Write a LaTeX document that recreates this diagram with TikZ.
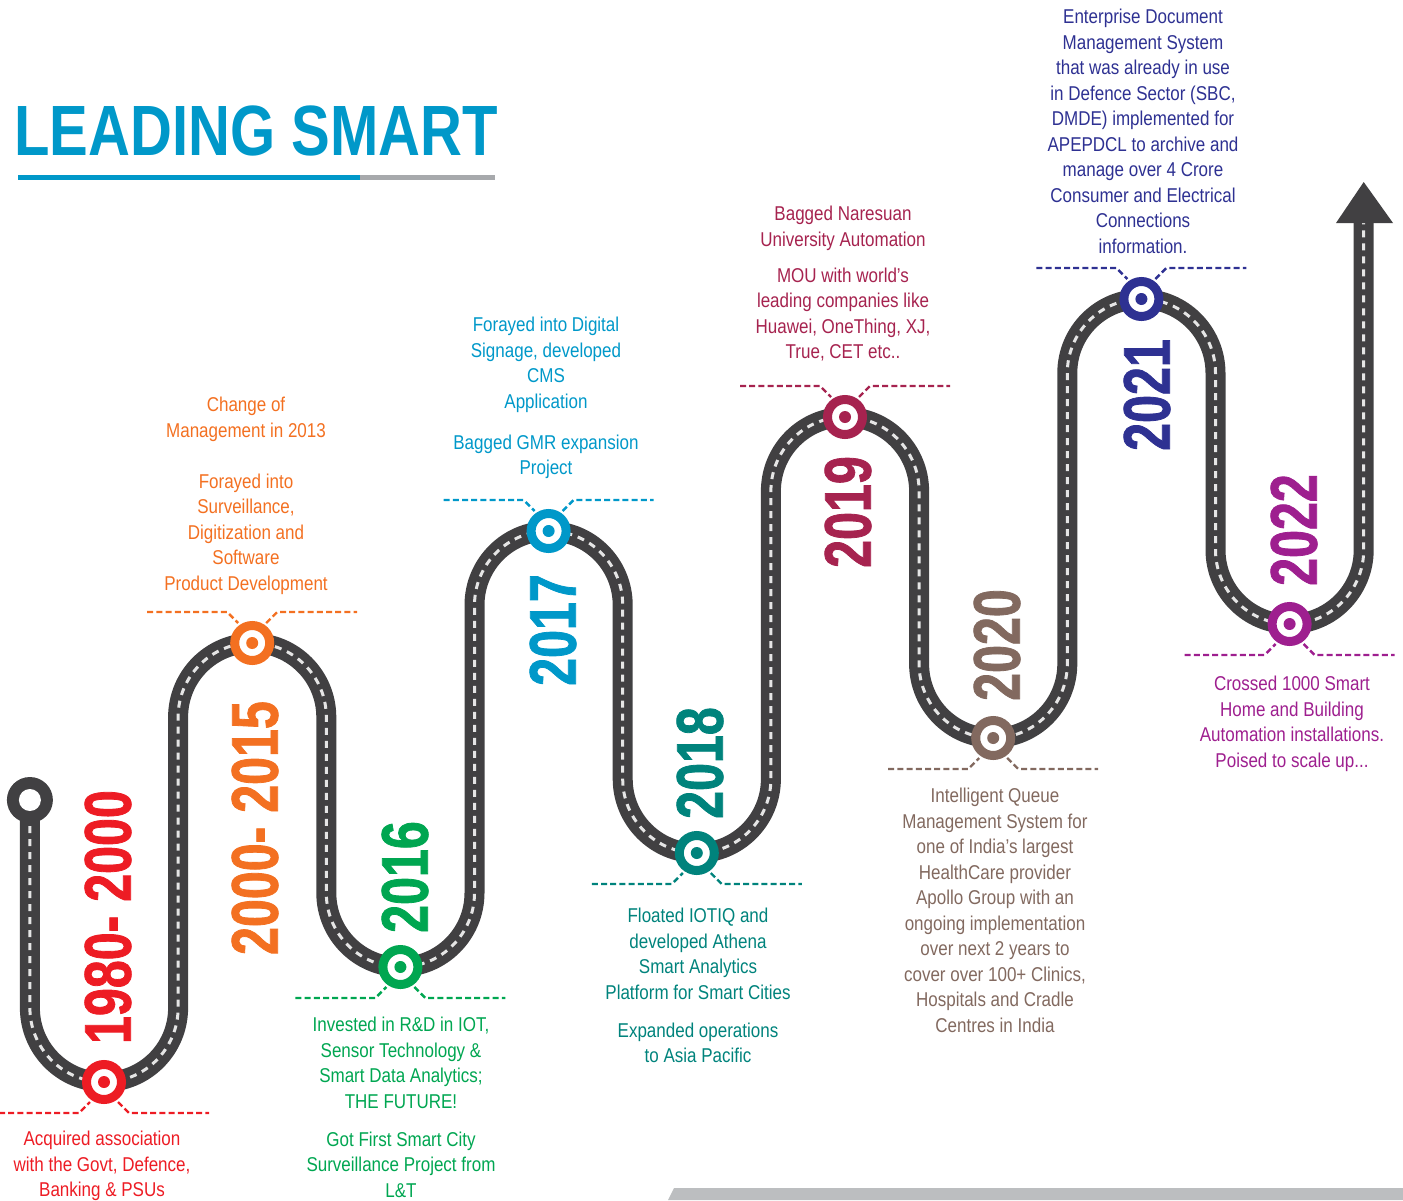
\documentclass[tikz,border=0pt]{standalone}
\usepackage{fontspec}
\usetikzlibrary{calc}

\newfontfamily\capfont[FakeStretch=0.85]{Liberation Sans}
\newfontfamily\yearfont[FakeStretch=0.76, BoldFeatures={FakeBold=1.2}]{Liberation Sans}
\newfontfamily\titlefont[FakeStretch=0.815]{Liberation Sans}

\definecolor{roadgray}{HTML}{414042}
\definecolor{mred}{HTML}{ED1C24}
\definecolor{morange}{HTML}{F37021}
\definecolor{mgreen}{HTML}{00A651}
\definecolor{mblue}{HTML}{0098C9}
\definecolor{mteal}{HTML}{00837C}
\definecolor{mcrimson}{HTML}{A6234F}
\definecolor{mtaupe}{HTML}{82695F}
\definecolor{mnavy}{HTML}{2E3192}
\definecolor{mpurple}{HTML}{9E1F8F}
\definecolor{bargray}{HTML}{A7A9AC}
\definecolor{floorgray}{HTML}{BCBEC0}

\tikzset{
    road/.style={draw=roadgray, line width=10pt},
    roadline/.style={draw=white!90!black, line width=1.5pt, dash pattern=on 3.5pt off 3pt},
    milestone/.style={circle, draw=#1, fill=white, line width=4.5pt, minimum size=17.5pt, inner sep=0pt,
        path picture={\fill[#1] (path picture bounding box.center) circle (3pt);}},
    notch/.style={draw=#1, line width=1.2pt, dash pattern=on 3pt off 1.6pt},
    caption/.style={text=#1, align=center, inner sep=0pt, anchor=north,
        font=\capfont\fontsize{10}{12.75}\selectfont},
    yearlabel/.style={text=#1, rotate=90, inner sep=0pt,
        font=\yearfont\bfseries\fontsize{33}{33}\selectfont}
}

\begin{document}
\begin{tikzpicture}[x=0.5pt, y=0.5pt]
    \useasboundingbox (0,0) rectangle (1403,-1200);

    % title
    \node[anchor=base west, inner sep=0pt, text=mblue, font=\titlefont\bfseries\fontsize{35.6}{36}\selectfont] (title) at (14,-155) {LEADING SMART};
    \draw[line width=2.5pt, mblue] (18,-177.5) -- (360,-177.5);
    \draw[line width=2.5pt, bargray] (360,-177.5) -- (495,-177.5);

    % floor bar
    \fill[floorgray] (668,-1200) -- (674,-1188) -- (1403,-1188) -- (1403,-1200) -- cycle;

    % the road
    \def\roadpath{(29.9,-800) -- (29.9,-1007.9) arc[start angle=180, end angle=360, radius=74.1]
        -- (178.1,-717.1) arc[start angle=180, end angle=0, radius=74.1]
        -- (326.3,-892.9) arc[start angle=180, end angle=360, radius=74.1]
        -- (474.5,-605.1) arc[start angle=180, end angle=0, radius=74.1]
        -- (622.7,-778.9) arc[start angle=180, end angle=360, radius=74.1]
        -- (770.9,-491.1) arc[start angle=180, end angle=0, radius=74.1]
        -- (919.1,-663.9) arc[start angle=180, end angle=360, radius=74.1]
        -- (1067.3,-373.1) arc[start angle=180, end angle=0, radius=74.1]
        -- (1215.5,-549.9) arc[start angle=180, end angle=360, radius=74.1]
        -- (1363.7,-223)}
    \draw[road] \roadpath;
    \draw[roadline] \roadpath;
    \fill[roadgray] (1336,-223) -- (1363.7,-182) -- (1393,-223) -- cycle;
    \fill[roadgray] (29.9,-800) circle (23);
    \fill[white] (29.9,-800) circle (11);

    % milestones, dir=-1 means text below
    \foreach \name/\x/\y/\col/\dir in {c0/104/-1082/mred/-1, c1/252.2/-643/morange/1,
        c2/400.4/-967/mgreen/-1, c3/548.6/-531/mblue/1, c4/696.8/-853/mteal/-1,
        c5/845/-417/mcrimson/1, c6/993.2/-738/mtaupe/-1, c7/1141.4/-299/mnavy/1,
        c8/1289.6/-624/mpurple/-1} {
        \node[milestone=\col] (\name) at (\x,\y) {};
        \draw[notch=\col] ($(\name)+(-105,31*\dir)$) -- ($(\name)+(-25,31*\dir)$) -- ($(\name)+(-14,20*\dir)$);
        \draw[notch=\col] ($(\name)+(14,20*\dir)$) -- ($(\name)+(25,31*\dir)$) -- ($(\name)+(105,31*\dir)$);
    }

    % years
    \node[yearlabel=mred] (y0) at (108,-917) {1980- 2000};
    \node[yearlabel=morange] (y1) at (255,-828) {2000- 2015};
    \node[yearlabel=mgreen] (y2) at (405,-877) {2016};
    \node[yearlabel=mblue] (y3) at (553,-630) {2017};
    \node[yearlabel=mteal] (y4) at (700,-763) {2018};
    \node[yearlabel=mcrimson] (y5) at (848,-512) {2019};
    \node[yearlabel=mtaupe] (y6) at (997,-645) {2020};
    \node[yearlabel=mnavy] (y7) at (1147,-395) {2021};
    \node[yearlabel=mpurple] (y8) at (1294,-530) {2022};

    % captions
    \node[caption=mred] (t0) at (102,-1131) {Acquired association\\with the Govt, Defence,\\Banking \& PSUs};
    \node[caption=morange] (t1) at (246,-397) {Change of\\Management in 2013\\[12.75pt]Forayed into\\Surveillance,\\Digitization and\\Software\\Product Development};
    \node[caption=mgreen] (t2) at (401,-1017) {Invested in R\&D in IOT,\\Sensor Technology \&\\Smart Data Analytics;\\THE FUTURE!\\[6.25pt]Got First Smart City\\Surveillance Project from\\L\&T};
    \node[caption=mblue] (t3) at (546,-317) {Forayed into Digital\\Signage, developed\\CMS\\Application\\[7.75pt]Bagged GMR expansion\\Project};
    \node[caption=mteal] (t4) at (698,-908) {Floated IOTIQ and\\developed Athena\\Smart Analytics\\Platform for Smart Cities\\[6.25pt]Expanded operations\\to Asia Pacific};
    \node[caption=mcrimson] (t5) at (843,-206) {Bagged Naresuan\\University Automation\\[5.25pt]MOU with world’s\\leading companies like\\Huawei, OneThing, XJ,\\True, CET etc..};
    \node[caption=mtaupe] (t6) at (995,-788) {Intelligent Queue\\Management System for\\one of India’s largest\\HealthCare provider\\Apollo Group with an\\ongoing implementation\\over next 2 years to\\cover over 100+ Clinics,\\Hospitals and Cradle\\Centres in India};
    \node[caption=mnavy] (t7) at (1143,-9) {Enterprise Document\\Management System\\that was already in use\\in Defence Sector (SBC,\\DMDE) implemented for\\APEPDCL to archive and\\manage over 4 Crore\\Consumer and Electrical\\Connections\\information.};
    \node[caption=mpurple] (t8) at (1292,-676) {Crossed 1000 Smart\\Home and Building\\Automation installations.\\Poised to scale up...};
\end{tikzpicture}
\end{document}
